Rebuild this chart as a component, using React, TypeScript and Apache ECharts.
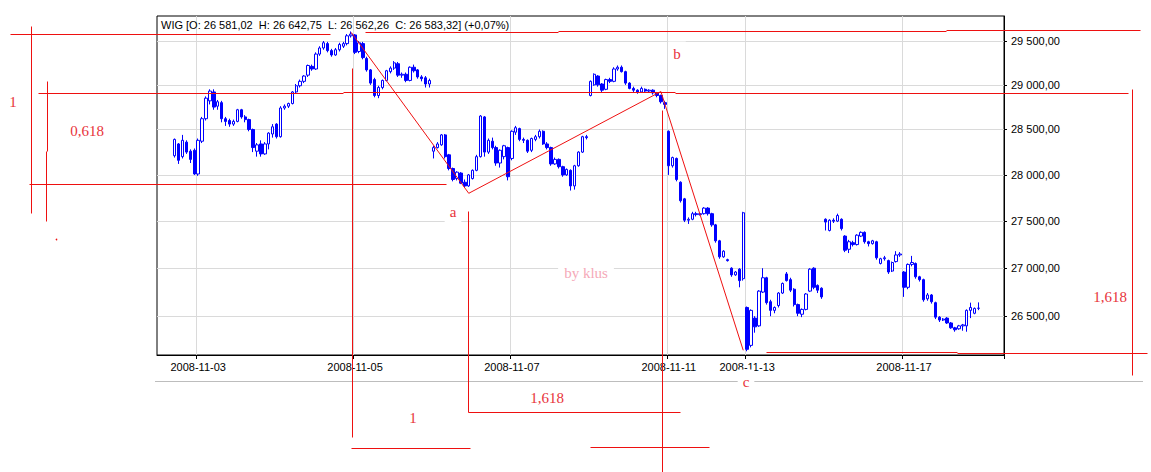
import React, { useEffect, useRef } from "react";
import * as echarts from "echarts";

// ---------- data ----------
const DAYS = [
  "2008-10-31", "2008-11-03", "2008-11-04", "2008-11-05", "2008-11-06", "2008-11-07",
  "2008-11-10", "2008-11-11", "2008-11-13", "2008-11-14", "2008-11-17",
];
const LABELLED_DAYS = ["2008-11-03", "2008-11-05", "2008-11-07", "2008-11-11", "2008-11-13", "2008-11-17"];

// [open, close, low, high]
const D1031 = [
  [28210, 28390, 28190, 28400], [28340, 28160, 28120, 28350], [28200, 28380, 28180, 28440],
  [28360, 28250, 28230, 28380], [28260, 28170, 28130, 28280], [28270, 28010, 28000, 28290],
];
const D1103 = [
  [28010, 28380, 27990, 28400], [28370, 28620, 28350, 28640], [28620, 28850, 28600, 28870],
  [28820, 28930, 28780, 28950], [28920, 28750, 28720, 28950], [28760, 28810, 28720, 28830],
  [28800, 28620, 28580, 28820], [28620, 28590, 28540, 28640], [28600, 28560, 28530, 28620],
  [28560, 28590, 28540, 28610], [28590, 28720, 28580, 28730], [28720, 28640, 28620, 28730],
  [28640, 28610, 28580, 28660], [28610, 28500, 28480, 28620], [28500, 28300, 28250, 28510],
  [28260, 28330, 28200, 28350], [28340, 28230, 28200, 28380], [28230, 28340, 28220, 28360],
  [28340, 28460, 28280, 28470], [28450, 28530, 28410, 28560],
];
const D1104 = [
  [28560, 28420, 28400, 28570], [28420, 28740, 28410, 28760], [28740, 28760, 28720, 28780],
  [28760, 28790, 28740, 28800], [28790, 28920, 28780, 28930], [28920, 28990, 28900, 29010],
  [28990, 29040, 28970, 29060], [29040, 29100, 29020, 29110], [29110, 29220, 29090, 29230],
  [29210, 29180, 29160, 29230], [29180, 29350, 29170, 29370], [29350, 29420, 29330, 29440],
  [29420, 29480, 29400, 29500], [29470, 29390, 29370, 29490], [29390, 29340, 29320, 29410],
  [29340, 29400, 29330, 29420], [29400, 29460, 29380, 29480], [29440, 29470, 29420, 29490],
  [29470, 29560, 29450, 29580], [29560, 29580, 29540, 29610],
];
const D1105 = [
  [29570, 29370, 29350, 29580], [29380, 29480, 29360, 29500], [29470, 29310, 29290, 29490],
  [29300, 29170, 29150, 29320], [29170, 29020, 29000, 29180], [29060, 28880, 28860, 29080],
  [28880, 28970, 28850, 28990], [28970, 29050, 28950, 29060], [29050, 29160, 29040, 29170],
  [29150, 29190, 29130, 29210], [29190, 29250, 29170, 29270], [29240, 29110, 29090, 29260],
  [29110, 29120, 29080, 29140], [29120, 29050, 29030, 29140], [29050, 29200, 29040, 29210],
  [29200, 29160, 29140, 29230], [29170, 29090, 29070, 29180], [29090, 29070, 29040, 29110],
  [29080, 29010, 28970, 29100], [29010, 29050, 28970, 29070],
];
const D1106 = [
  [28260, 28300, 28180, 28320], [28300, 28340, 28290, 28360], [28330, 28440, 28320, 28450],
  [28440, 28200, 28180, 28450], [28220, 28070, 28050, 28230], [28070, 27950, 27930, 28080],
  [27960, 28030, 27940, 28040], [28020, 27910, 27900, 28030], [27920, 27880, 27860, 27950],
  [27880, 28000, 27870, 28010], [27960, 28050, 27950, 28060], [28050, 28200, 28040, 28220],
  [28200, 28650, 28190, 28660], [28640, 28250, 28200, 28650], [28250, 28380, 28230, 28400],
  [28370, 28300, 28280, 28410], [28300, 28130, 28100, 28320], [28130, 28270, 28080, 28280],
  [28200, 28320, 28170, 28330], [28300, 27980, 27940, 28310],
];
const D1107 = [
  [28180, 28480, 28160, 28490], [28470, 28520, 28440, 28540], [28510, 28390, 28370, 28520],
  [28390, 28380, 28350, 28410], [28380, 28260, 28240, 28390], [28270, 28400, 28250, 28410],
  [28390, 28420, 28370, 28440], [28420, 28480, 28400, 28500], [28480, 28340, 28330, 28490],
  [28340, 28300, 28280, 28360], [28300, 28120, 28100, 28310], [28120, 28170, 28110, 28190],
  [28170, 28090, 28070, 28180], [28090, 28000, 27980, 28100], [28000, 28060, 27990, 28070],
  [28050, 27880, 27830, 28060], [27880, 28100, 27840, 28110], [28100, 28250, 28090, 28260],
  [28250, 28420, 28240, 28430], [28420, 28410, 28390, 28440],
];
const D1110 = [
  [28880, 29040, 28870, 29050], [29000, 29120, 28990, 29130], [29100, 29000, 28980, 29110],
  [29010, 28940, 28920, 29020], [28950, 29060, 28940, 29070], [29060, 29040, 29020, 29080],
  [29040, 29180, 29030, 29200], [29180, 29200, 29160, 29220], [29200, 29150, 29140, 29220],
  [29150, 29020, 29000, 29160], [29020, 28960, 28950, 29030], [28960, 28940, 28920, 28980],
  [28940, 28920, 28900, 28950], [28920, 28960, 28910, 28980], [28950, 28930, 28910, 28960],
  [28930, 28940, 28910, 28950], [28940, 28910, 28890, 28950], [28910, 28880, 28860, 28920],
  [28880, 28810, 28790, 28890], [28800, 28780, 28730, 28820],
];
const D1111 = [
  [28480, 28100, 28000, 28490], [28100, 28190, 28080, 28200], [28180, 27950, 27930, 28190],
  [27920, 27720, 27700, 27930], [27740, 27510, 27490, 27750], [27510, 27520, 27470, 27540],
  [27520, 27580, 27510, 27600], [27580, 27570, 27550, 27600], [27570, 27580, 27560, 27590],
  [27580, 27640, 27570, 27650], [27640, 27580, 27560, 27650], [27580, 27460, 27440, 27590],
  [27460, 27290, 27270, 27470], [27290, 27120, 27100, 27300], [27120, 27180, 27110, 27190],
  [27090, 27080, 27070, 27100], [27000, 26930, 26910, 27010], [26930, 26960, 26920, 26970],
  [26990, 26870, 26800, 27000], [26890, 27590, 26870, 27600],
];
const D1113 = [
  [26590, 26160, 26140, 26600], [26200, 26560, 26180, 26570], [26480, 26390, 26330, 26500],
  [26400, 26760, 26390, 26770], [26750, 26900, 26740, 27000], [26900, 26640, 26620, 26910],
  [26650, 26560, 26500, 26670], [26560, 26590, 26530, 26600], [26610, 26740, 26590, 26750],
  [26740, 26840, 26730, 26850], [26940, 26870, 26860, 26960], [26880, 26770, 26750, 26900],
  [26780, 26620, 26600, 26790], [26620, 26530, 26500, 26630], [26520, 26570, 26490, 26580],
  [26570, 26730, 26560, 26740], [26760, 26990, 26750, 27000], [27000, 26800, 26780, 27010],
  [26820, 26770, 26740, 26830], [26790, 26700, 26680, 26800],
];
const D1114 = [
  [27520, 27490, 27400, 27530], [27400, 27510, 27390, 27520], [27510, 27500, 27480, 27530],
  [27500, 27560, 27490, 27580], [27520, 27420, 27400, 27530], [27340, 27190, 27170, 27350],
  [27200, 27280, 27160, 27300], [27270, 27250, 27230, 27290], [27250, 27350, 27240, 27360],
  [27340, 27380, 27330, 27390], [27380, 27280, 27260, 27390], [27280, 27260, 27230, 27290],
  [27260, 27290, 27250, 27300], [27280, 27110, 27090, 27290], [27050, 27100, 27040, 27110],
  [27100, 27110, 27080, 27130], [27080, 26960, 26940, 27090], [26970, 27060, 26960, 27070],
  [27070, 27140, 27060, 27180], [27140, 27150, 27120, 27170],
];
const D1117 = [
  [26960, 26800, 26700, 26970], [26800, 27040, 26780, 27050], [27040, 27060, 27020, 27130],
  [27050, 26910, 26890, 27060], [26910, 26880, 26860, 26920], [26880, 26670, 26650, 26890],
  [26680, 26720, 26660, 26740], [26720, 26650, 26630, 26730], [26640, 26490, 26470, 26650],
  [26490, 26460, 26440, 26500], [26460, 26470, 26450, 26480], [26480, 26430, 26420, 26490],
  [26430, 26380, 26370, 26440], [26380, 26360, 26340, 26390], [26370, 26400, 26360, 26410],
  [26400, 26410, 26350, 26420], [26400, 26560, 26340, 26570], [26560, 26590, 26480, 26640],
  [26530, 26580, 26520, 26590], [26581.02, 26583.32, 26562.26, 26642.75],
];
const DAY_DATA = [D1031, D1103, D1104, D1105, D1106, D1107, D1110, D1111, D1113, D1114, D1117];

// Elliott-style zigzag: [day, bar slot, value]
const ZIGZAG: [string, number, number][] = [
  ["2008-11-04", 19, 29600],
  ["2008-11-06", 9, 27800],
  ["2008-11-10", 18, 28925],
  ["2008-11-11", 19, 26150],
];

const Y_TICKS = [26500, 27000, 27500, 28000, 28500, 29000, 29500];
const Y_MIN = 26102;
const Y_MAX = 29789;
const PAD_LEFT = 4;
const PAD_RIGHT = 6;

const TITLE = "WIG [O: 26 581,02  H: 26 642,75  L: 26 562,26  C: 26 583,32] (+0,07%)";

// ---------- hand-drawn annotation layer (pixel positions) ----------
const ANNOT_LINES: number[][] = [
  [10, 34, 330, 34],
  [365, 32, 558, 32], [558, 31, 946, 31], [946, 30, 1140, 30],
  [38, 93, 343, 93], [343, 92, 675, 92], [675, 93, 1128, 93],
  [29, 184, 446, 184],
  [766, 352, 957, 352], [957, 353, 1147, 353],
  [351, 448, 470, 448],
  [468, 412, 680, 412],
  [590, 447, 709, 447],
  [31, 26, 31, 213],
  [47, 81, 47, 151], [46, 151, 46, 221],
  [352, 68, 352, 437],
  [468, 211, 468, 412],
  [662, 110, 662, 472],
  [1132, 89, 1132, 375],
];
const GRAY_LINE = [155, 381, 1143, 381];
const ANNOT_TEXTS: [string, number, number, boolean][] = [
  ["1", 13, 102, false],
  ["0,618", 87, 131, false],
  ["a", 453, 212, true],
  ["b", 677, 54, true],
  ["c", 746, 382, true],
  ["1", 413, 418, false],
  ["1,618", 547, 398, false],
  ["1,618", 1110, 297, false],
];
const WATERMARK = { text: "by klus", x: 586, y: 273 };

const RED = "#ee1010";
const TEXT_RED = "#e8333b";
const BLUE = "#0000ff";
const SANS = '"Liberation Sans", Arial, sans-serif';
const SERIF = '"Liberation Serif", "Times New Roman", serif';

function fmtY(v: number): string {
  const n = Math.round(v).toString().replace(/\B(?=(\d{3})+(?!\d))/g, " ");
  return n + ",00";
}

export default function App() {
  const ref = useRef<HTMLDivElement>(null);

  useEffect(() => {
    if (!ref.current) return;
    const chart = echarts.init(ref.current, undefined, { renderer: "svg" });

    const cats: string[] = [];
    for (let i = 0; i < PAD_LEFT; i++) cats.push("pad-l" + i);
    const dayStart: Record<string, number> = {};
    DAYS.forEach((d, k) => {
      dayStart[d] = cats.length;
      DAY_DATA[k].forEach((_, j) => cats.push(d + " " + j));
    });
    for (let i = 0; i < PAD_RIGHT; i++) cats.push("pad-r" + i);

    const candles: any[] = [];
    DAYS.forEach((d, k) => {
      DAY_DATA[k].forEach((b, j) => {
        candles.push([dayStart[d] + j, b[0], b[1], b[2], b[3]]);
      });
    });

    const labelSet = new Set(LABELLED_DAYS.map((d) => dayStart[d]));
    const isLabel = (i: number) => labelSet.has(i);

    const zig = ZIGZAG.map(([d, s, v]) => [dayStart[d] + s, v]);

    const graphics: any[] = [];
    graphics.push({
      type: "text",
      id: "title",
      x: 161,
      y: 19,
      z: 40,
      silent: true,
      style: { text: TITLE, font: "11px " + SANS, fill: "#000", textAlign: "left", textVerticalAlign: "top" },
    });
    graphics.push({
      type: "polyline",
      id: "grayline",
      z: 45,
      silent: true,
      shape: { points: [[GRAY_LINE[0], GRAY_LINE[1] + 0.5], [GRAY_LINE[2], GRAY_LINE[3] + 0.5]] },
      style: { stroke: "#bdbdbd", lineWidth: 1, fill: null },
    });
    graphics.push({
      type: "text",
      id: "watermark",
      x: WATERMARK.x,
      y: WATERMARK.y,
      z: 46,
      silent: true,
      style: {
        text: WATERMARK.text,
        font: "15px " + SERIF,
        fill: "#f5a9b8",
        textAlign: "center",
        textVerticalAlign: "middle",
        backgroundColor: "#fff",
        padding: [3, 6],
      },
    });
    ANNOT_TEXTS.forEach(([t, x, y, box], i) => {
      graphics.push({
        type: "text",
        id: "atext" + i,
        x,
        y,
        z: 47,
        silent: true,
        style: {
          text: t,
          font: "15px " + SERIF,
          fill: TEXT_RED,
          textAlign: "center",
          textVerticalAlign: "middle",
          backgroundColor: box ? "#fff" : undefined,
          padding: box ? [5, 5] : 0,
        },
      });
    });
    ANNOT_LINES.forEach(([x1, y1, x2, y2], i) => {
      graphics.push({
        type: "polyline",
        id: "aline" + i,
        z: 50,
        silent: true,
        shape: { points: [[x1 + 0.5, y1 + 0.5], [x2 + 0.5, y2 + 0.5]] },
        style: { stroke: RED, lineWidth: 1, fill: null, opacity: 1 },
      });
    });
    graphics.push({
      type: "circle",
      id: "dot",
      z: 50,
      silent: true,
      shape: { cx: 56.5, cy: 239.5, r: 0.8 },
      style: { fill: RED },
    });

    const option: any = {
      animation: false,
      backgroundColor: "#fff",
      grid: {
        left: 157,
        top: 16,
        width: 847,
        height: 339,
        show: true,
        borderColor: "#000",
        borderWidth: 1,
        backgroundColor: "transparent",
        containLabel: false,
        outerBoundsMode: "none",
      },
      xAxis: {
        type: "category",
        data: cats,
        boundaryGap: true,
        axisLine: { show: true, lineStyle: { color: "#000", width: 1 } },
        axisTick: { show: true, interval: isLabel, length: 4, lineStyle: { color: "#000" } },
        axisLabel: {
          interval: isLabel,
          formatter: (v: string) => v.split(" ")[0],
          color: "#000",
          fontSize: 11,
          fontFamily: SANS,
          margin: 6,
          hideOverlap: false,
        },
        splitLine: { show: true, interval: isLabel, lineStyle: { color: "#dadada", width: 1 } },
      },
      yAxis: {
        type: "log",
        logBase: 10,
        position: "right",
        min: Y_MIN,
        max: Y_MAX,
        axisLine: { show: true, lineStyle: { color: "#000", width: 1 } },
        axisTick: { show: true, customValues: Y_TICKS, length: 3, lineStyle: { color: "#000" } },
        axisLabel: {
          customValues: Y_TICKS,
          formatter: (v: number) => fmtY(v),
          color: "#000",
          fontSize: 11,
          fontFamily: SANS,
          margin: 7,
          showMinLabel: true,
          showMaxLabel: true,
        },
        splitLine: { show: true, lineStyle: { color: "#dadada", width: 1 } },
      },
      series: [
        {
          type: "candlestick",
          data: candles,
          dimensions: ["idx", "open", "close", "lowest", "highest"],
          encode: { x: "idx", y: ["open", "close", "lowest", "highest"] },
          barWidth: 2.9,
          z: 3,
          itemStyle: {
            color: "#ffffff",
            color0: BLUE,
            borderColor: BLUE,
            borderColor0: BLUE,
            borderColorDoji: BLUE,
            borderWidth: 1,
          },
          silent: true,
        },
        {
          type: "line",
          data: zig,
          symbol: "none",
          z: 4,
          silent: true,
          lineStyle: { color: RED, width: 1 },
        },
      ],
      graphic: { elements: graphics },
    };

    chart.setOption(option);
    return () => chart.dispose();
  }, []);

  return (
    <div
      ref={ref}
      style={{ position: "fixed", left: 0, top: 0, width: 1151, height: 472, background: "#fff" }}
    />
  );
}
